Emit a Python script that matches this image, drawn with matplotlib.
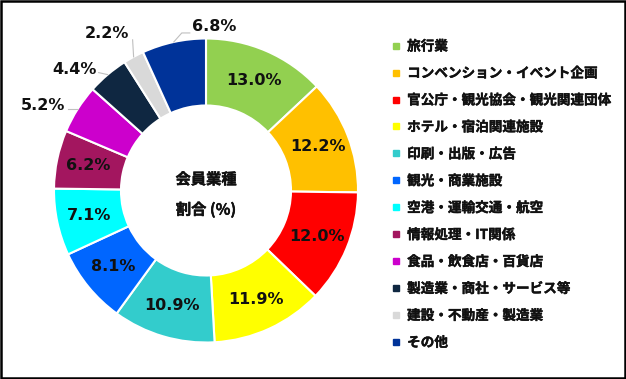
import numpy as np
import matplotlib.pyplot as plt
import matplotlib.patheffects as pe
from matplotlib.lines import Line2D
from matplotlib.patches import Rectangle

plt.rcParams['font.family'] = ['Noto Sans CJK JP', 'DejaVu Sans']

categories = [
    '旅行業', 'コンベンション・イベント企画', '官公庁・観光協会・観光関連団体',
    'ホテル・宿泊関連施設', '印刷・出版・広告', '観光・商業施設',
    '空港・運輸交通・航空', '情報処理・IT関係', '食品・飲食店・百貨店',
    '製造業・商社・サービス等', '建設・不動産・製造業', 'その他',
]
shares = [13.0, 12.2, 12.0, 11.9, 10.9, 8.1, 7.1, 6.2, 5.2, 4.4, 2.2, 6.8]
colors = ['#92D050', '#FFC000', '#FF0000', '#FFFF00', '#33CCCC', '#0066FF',
          '#00FFFF', '#A3165F', '#CC00CC', '#0F2741', '#D9D9D9', '#003399']
center_title = '会員業種\n割合 (%)'

# figure in pixel units: 626 x 379
W, H = 626, 379
fig = plt.figure(figsize=(W / 100, H / 100), dpi=100)
ax = fig.add_axes([0, 0, 1, 1])

cx, cy, R = 206, 188.5, 152
ring = 67

wedges, _ = ax.pie(shares, colors=colors, startangle=90, counterclock=False,
                   center=(cx, cy), radius=R, frame=True,
                   wedgeprops=dict(width=ring, edgecolor='white', linewidth=1.5))
ax.set_xlim(0, W)
ax.set_ylim(0, H)
ax.set_aspect('equal')
ax.axis('off')

# light fake-bold stroke for the CJK text
bold = [pe.withStroke(linewidth=0.3, foreground='#111111')]

# outer labels: text offset from the wedge edge + leader line points
outer = {
    8: (-12, 4, 'right', [(0, 0), (-10, 0)]),
    9: (-11, 5, 'right', [(0, 0), (-9, 2)]),
    10: (-4, 23, 'right', [(0, 0), (-1, 17)]),
    11: (18, 15, 'left', [(0, 0), (8, 9), (16, 9)]),
}
for i, (w, v) in enumerate(zip(wedges, shares)):
    ang = np.deg2rad((w.theta1 + w.theta2) / 2)
    label = f'{v:.1f}%'
    if i in outer:
        dx, dy, ha, pts = outer[i]
        ex, ey = cx + R * np.cos(ang), cy + R * np.sin(ang)
        ax.plot([ex + p[0] for p in pts], [ey + p[1] for p in pts],
                color='#BFBFBF', lw=0.8)
        ax.text(ex + dx, ey + dy, label, ha=ha, va='center', fontsize=11.5,
                fontweight='bold', family='DejaVu Sans', color='#111111')
    else:
        r = R * 0.79
        ax.text(cx + r * np.cos(ang), cy + r * np.sin(ang), label,
                ha='center', va='center', fontsize=11.5, fontweight='bold',
                family='DejaVu Sans', color='#111111')

ax.text(cx, cy - 4, center_title, ha='center', va='center', fontsize=11,
        fontweight='bold', linespacing=2.1, color='#111111', path_effects=bold)

handles = [Line2D([], [], marker='s', linestyle='none', markersize=5,
                  markerfacecolor=c, markeredgecolor=c) for c in colors]
leg = fig.legend(handles, categories, loc='upper left',
                 bbox_to_anchor=(386 / W, 1 - 34 / H), frameon=False,
                 prop=dict(size=9.8, weight='bold'), handlelength=0.6,
                 handletextpad=0.55, labelspacing=0.95, borderaxespad=0)
for t in leg.get_texts():
    t.set_color('#111111')
    t.set_path_effects(bold)

fig.patches.append(Rectangle((0.001, 0.002), 0.997, 0.995, transform=fig.transFigure,
                             fill=False, edgecolor='black', linewidth=1.8))

fig.savefig('out.png', dpi=100)
